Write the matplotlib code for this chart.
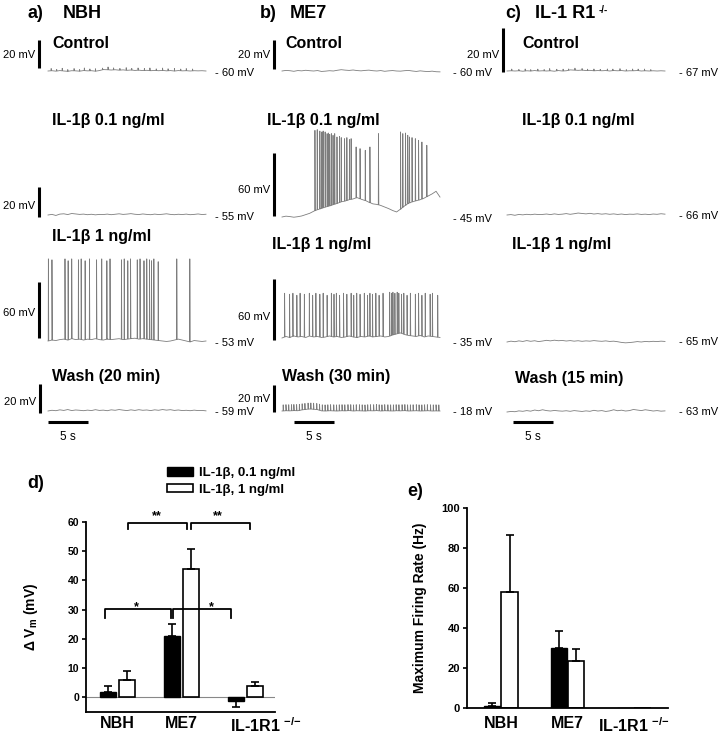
import numpy as np
import matplotlib
matplotlib.use('Agg')
import matplotlib.pyplot as plt
from matplotlib.patches import Patch
from matplotlib import transforms

plt.rcParams['font.family'] = ['Liberation Sans', 'DejaVu Sans']
plt.rcParams['mathtext.fontset'] = 'custom'
plt.rcParams['mathtext.rm'] = 'Liberation Sans'
plt.rcParams['mathtext.bf'] = 'Liberation Sans:bold'
plt.rcParams['mathtext.it'] = 'Liberation Sans:italic'

# ------------------------------------------------------------------ data
# bar charts
groups = ['NBH', 'ME7', 'IL-1R1 $^{\\mathbf{{-}/{-}}}$']
legend_labels = ['IL-1β, 0.1 ng/ml', 'IL-1β, 1 ng/ml']
dvm_low = [1.7, 21.1, -1.4]
dvm_low_err = [2.1, 4.0, 1.8]
dvm_high = [5.9, 44.0, 3.8]
dvm_high_err = [3.2, 6.6, 1.6]
rate_low = [1.2, 30.0, 0.0]
rate_low_err = [1.3, 8.7, 0.0]
rate_high = [57.8, 23.3, 0.0]
rate_high_err = [28.9, 6.2, 0.0]
dvm_ticks = [0, 10, 20, 30, 40, 50, 60]
rate_ticks = [0, 20, 40, 60, 80, 100]
# significance brackets: x_left, x_right, y, leg, label, label_x, label_y
dvm_brackets = [
    (0.16, 1.08, 59.5, 2.0, '**', 0.62, 62.0),
    (1.15, 2.07, 59.5, 2.0, '**', 1.57, 62.0),
    (-0.20, 0.84, 30.2, 3.0, '*', 0.30, 31.0),
    (0.87, 1.77, 30.2, 3.0, '*', 1.46, 31.0),
]

# recordings (20 s, baseline sampled every 0.5 s, mV relative to rest)
t_grid = np.arange(41) * 0.5
panel_titles = [('a)', 'NBH'), ('b)', 'ME7'), ('c)', 'IL-1 R1')]
row_labels = [['Control', 'Control', 'Control'],
              ['IL-1β 0.1 ng/ml', 'IL-1β 0.1 ng/ml', 'IL-1β 0.1 ng/ml'],
              ['IL-1β 1 ng/ml', 'IL-1β 1 ng/ml', 'IL-1β 1 ng/ml'],
              ['Wash (20 min)', 'Wash (30 min)', 'Wash (15 min)']]
rest_mV = [[-60, -60, -67], [-55, -45, -66], [-53, -35, -65], [-59, -18, -63]]

a_ctrl = [0.0, 0.2, -0.1, 0.3, 0.0, -0.2, 0.2, 0.1, -0.1, 0.3, 0.1, 0.2, -0.1, 0.3, 1.0, 0.9, 0.7, 0.9, 0.6, 0.8, 0.5,
          0.7, 0.4, 0.6, 0.3, 0.5, 0.2, 0.4, 0.2, 0.4, 0.1, 0.3, 0.0, 0.3, 0.1, 0.2, 0.0, 0.2, 0.1, 0.2, 0.0]
a_ctrl_minis_t = [0.4, 1.1, 1.8, 2.5, 3.3, 4.0, 4.6, 5.3, 6.0, 6.9, 7.6, 8.3, 9.1, 9.9, 10.6, 11.4, 12.2, 12.9, 13.7,
                  14.5, 15.2, 16.0, 16.8, 17.5, 18.3]
a_ctrl_minis_h = [1.6, 1.1, 1.8, 1.2, 1.6, 1.1, 1.9, 1.3, 1.7, 1.2, 2.0, 1.4, 1.2, 1.8, 1.2, 1.6, 1.4, 1.9, 1.2, 1.7,
                  1.4, 1.8, 1.2, 1.5, 1.3]
b_ctrl = [0.0, 0.4, 0.2, -0.2, 0.3, 0.1, 0.5, 0.2, 0.0, 0.3, -0.3, -0.1, 0.2, 0.0, 0.5, 0.9, 0.6, 0.4, 0.7, 0.3, 0.1,
          0.4, 0.6, 0.2, 0.0, 0.3, -0.2, 0.1, 0.3, 0.0, -0.1, 0.2, 0.4, 0.0, -0.3, 0.1, -0.2, -0.4, -0.1, -0.5, -0.6]
c_ctrl = [0.0, 0.1, 0.0, 0.1, -0.1, 0.1, 0.0, 0.2, 0.0, 0.1, 0.0, 0.1, -0.1, 0.2, 0.0, 0.1, 0.5, 0.4, 0.3, 0.4, 0.2,
          0.3, 0.1, 0.2, 0.1, 0.2, 0.0, 0.2, 0.1, 0.2, 0.0, 0.1, 0.1, 0.2, 0.0, 0.1, 0.0, 0.1, 0.0, 0.1, 0.0]
c_ctrl_minis_t = [0.6, 1.5, 2.3, 3.0, 3.9, 4.7, 5.4, 6.3, 7.1, 7.8, 8.6, 9.5, 10.2, 11.0, 11.8, 12.7, 13.4, 14.3,
                  15.1, 15.9, 16.6, 17.4, 18.2]
c_ctrl_minis_h = [0.8, 0.6, 0.9, 0.6, 0.8, 0.6, 1.0, 0.7, 0.8, 0.6, 0.9, 0.7, 0.6, 0.8, 0.6, 0.8, 0.7, 0.9, 0.6, 0.8,
                  0.7, 0.8, 0.6]

a_01 = [0.0, 0.4, -0.3, 0.6, 0.8, 0.3, 1.0, 0.7, 0.4, 0.6, 0.2, 0.5, 0.1, 0.4, 0.3, 0.6, 0.2, 0.5, 0.8, 0.4, 0.6,
        0.9, 0.5, 0.3, 0.7, 0.4, 0.2, 0.6, 0.3, 0.5, 0.8, 0.4, 0.2, 0.5, 0.3, 0.6, 0.2, 0.4, 0.7, 0.3, 0.5]
b_01 = [0.0, 0.8, 0.4, -0.2, 0.3, 1.0, 2.2, 3.5, 5.5, 7.0, 8.2, 9.5, 10.5, 11.8, 13.0, 14.5, 15.2, 16.5, 17.2, 18.5,
        17.0, 15.8, 14.0, 12.5, 12.0, 11.0, 9.5, 8.0, 6.2, 4.8, 7.5, 10.5, 13.0, 14.5, 15.5, 16.5, 18.0, 20.0, 22.0,
        24.5, 19.0]
b_01_spike_t = [4.17, 4.46, 4.79, 5.04, 5.21, 5.46, 5.71, 5.88, 6.04, 6.25, 6.46, 6.67, 6.96, 7.29, 7.5, 7.92, 8.21,
                8.54, 8.75, 9.38, 9.88, 10.54, 11.13, 12.21, 15.0, 15.29, 15.63, 15.92, 16.13, 16.46, 16.88, 17.29,
                17.71, 18.33]
b_01_spike_v = [82.5, 83.2, 81.9, 81.0, 81.9, 81.0, 79.4, 80.0, 78.7, 79.4, 77.8, 79.4, 76.2, 76.8, 75.6, 74.6, 75.6,
                73.7, 74.6, 66.7, 65.1, 63.5, 66.7, 79.4, 81.0, 79.4, 80.0, 77.8, 76.2, 75.6, 74.6, 73.0, 71.4, 68.3]
c_01 = [0.0, 0.3, -0.2, 0.4, 0.1, 0.5, 0.2, 0.6, 0.3, 0.4, 0.7, 0.3, 0.8, 0.4, 0.6, 1.0, 0.5, 0.9, 1.4, 1.1, 0.8,
        1.2, 0.7, 1.0, 0.6, 0.9, 0.5, 0.8, 0.4, 0.7, 0.3, 0.6, 0.5, 0.8, 0.4, 0.6, 0.3, 0.7, 0.5, 0.9, 0.6]

a_1 = [0.0, 1.0, 0.5, 1.5, 2.0, 1.0, 2.5, 1.5, 2.0, 1.0, 2.0, 1.5, 2.5, 1.5, 1.0, 2.0, 1.5, 2.0, 2.5, 1.5, 2.0, 2.5,
       3.0, 2.0, 2.5, 2.0, 1.5, 1.0, 0.5, 0.0, -0.5, 0.0, 1.0, 2.0, 1.0, 0.0, -1.0, 0.5, 0.0, -0.5, 0.0]
a_1_spike_t = [0.05, 0.5, 2.15, 2.55, 3.0, 3.85, 4.2, 4.7, 5.25, 6.15, 6.8, 7.45, 7.85, 9.3, 9.65, 10.1, 10.45, 11.3,
               11.65, 12.15, 12.5, 12.85, 13.1, 13.4, 13.95, 16.3, 17.95]
a_1_spike_v = [88, 87, 88, 86, 88, 87, 88, 86, 88, 87, 88, 86, 88, 87, 88, 86, 88, 87, 88, 86, 88, 87, 86, 88, 85,
               88, 88]
b_1 = [0.0, 1.5, 0.5, 2.0, 1.0, 1.5, 0.5, 2.0, 1.0, 1.5, 0.5, 1.0, 2.0, 1.0, 1.5, 0.5, 1.0, 2.0, 1.0, 0.5, 1.5, 1.0,
       2.0, 1.0, 1.5, 2.0, 1.0, 1.5, 3.0, 4.0, 5.0, 3.5, 2.5, 2.0, 1.5, 2.5, 1.0, 2.0, 1.5, 1.0, 0.5]
b_1_spike_t = [0.33, 0.96, 1.38, 1.88, 2.29, 2.83, 3.46, 3.88, 4.29, 4.79, 5.21, 5.71, 6.25, 6.58, 6.88, 7.29, 7.79,
               8.21, 8.75, 9.08, 9.46, 9.88, 10.42, 10.83, 11.13, 11.46, 11.88, 12.29, 12.79, 13.63, 13.88, 14.04,
               14.29, 14.58, 14.79, 15.13, 15.42, 15.83, 16.25, 16.88, 17.29, 17.71, 18.13, 18.75, 19.04, 19.71]
b_1_spike_v = [44, 43, 44, 42, 44, 43, 44, 42, 44, 43, 44, 42, 44, 43, 44, 42, 44, 43, 44, 42, 44, 43, 44, 42, 44,
               43, 44, 42, 44, 45, 44, 45, 44, 45, 44, 43, 44, 42, 44, 43, 44, 42, 44, 43, 44, 42]
c_1 = [0.0, 0.6, 0.2, 0.8, 0.4, 1.0, 0.5, 0.9, 0.3, 0.7, 1.2, 0.8, 1.3, 0.9, 1.1, 0.7, 1.0, 0.6, 0.9, 0.5, 0.8, 0.6,
       1.0, 0.7, 0.5, 0.8, 0.4, 0.6, 0.2, -0.3, -0.6, -0.4, -0.1, 0.3, 0.0, 0.4, 0.2, 0.5, 0.3, 0.6, 0.4]

a_wash = [0.0, 0.5, 0.2, 0.8, 0.4, 1.0, 0.3, 0.7, 0.5, 0.2, 0.6, 0.3, 0.9, 0.4, 0.6, 0.2, 0.8, 0.5, 1.0, 0.6, 0.3,
          0.8, 0.4, 0.9, 0.5, 0.7, 0.3, 0.8, 0.5, 1.0, 0.6, 0.9, 0.4, 0.7, 0.3, 0.5, 0.2, 0.6, 0.3, 0.4, 0.1]
b_wash = [0.0, 0.2, 0.1, 0.3, 0.2, 0.8, 1.2, 1.5, 1.3, 1.0, 0.1, 0.0, 0.2, 0.1, 0.0, 0.2, 0.1, 0.3, 0.0, 0.2, 0.1,
          0.0, 0.2, 0.1, 0.3, 0.0, 0.2, 0.1, 0.0, 0.2, 0.1, 0.3, 0.0, 0.1, 0.2, 0.0, 0.1, 0.2, 0.0, 0.1, 0.0]
b_wash_spike_t = [0.15, 0.5, 0.85, 1.2, 1.5, 1.85, 2.2, 2.55, 2.9, 3.3, 3.65, 4.0, 4.4, 4.75, 5.1, 5.45, 5.8, 6.15,
                  6.55, 6.9, 7.25, 7.6, 7.95, 8.35, 8.7, 9.05, 9.4, 9.8, 10.15, 10.5, 10.85, 11.2, 11.6, 11.95,
                  12.3, 12.65, 13.0, 13.4, 13.75, 14.1, 14.45, 14.8, 15.2, 15.55, 15.9, 16.25, 16.6, 17.0, 17.35,
                  17.7, 18.05, 18.4, 18.8, 19.15, 19.5, 19.85]
b_wash_spike_h = 4.5
c_wash = [0.0, 0.4, 0.2, 0.8, 0.5, 1.0, 0.6, 1.4, 0.9, 1.6, 1.0, 0.7, 1.1, 0.8, 0.6, 0.9, 0.5, 1.0, 0.7, 0.4, 0.8,
          0.5, 1.2, 0.7, 1.0, 0.4, 0.8, 1.6, 0.9, 1.3, 0.7, 1.0, 1.8, 1.4, 1.0, 1.6, 1.2, 0.7, 1.0, 0.6, 0.8]

traces = [
    [(a_ctrl, a_ctrl_minis_t, a_ctrl_minis_h, True), (b_ctrl, [], [], False), (c_ctrl, c_ctrl_minis_t, c_ctrl_minis_h, True)],
    [(a_01, [], [], False), (b_01, b_01_spike_t, b_01_spike_v, False), (c_01, [], [], False)],
    [(a_1, a_1_spike_t, a_1_spike_v, False), (b_1, b_1_spike_t, b_1_spike_v, False), (c_1, [], [], False)],
    [(a_wash, [], [], False), (b_wash, b_wash_spike_t, [b_wash_spike_h] * len(b_wash_spike_t), True), (c_wash, [], [], False)],
]

# ------------------------------------------------------------------ layout (pixels)
W, H = 720, 737
fig = plt.figure(figsize=(7.2, 7.37), dpi=100)


def fx(x):
    return x / W


def fy(y):
    return 1 - y / H


x0_px = [48, 282, 507]
trace_w_px = 158
pxps = trace_w_px / 20.0
base_px = [[71, 71, 71], [215, 217, 215], [341, 338, 342], [411, 411, 412]]
scale_px = [[1.4, 1.45, 2.2], [1.5, 1.05, 1.4], [0.933, 1.017, 1.4], [1.45, 1.35, 1.4]]
# vertical scale bars: (row, col): (x_px, bottom_px, mV, label_y_px)
vbars = {(0, 0): (39, 68, 20, 55), (0, 1): (274, 69, 20, 55), (0, 2): (503, 72, 20, 55),
         (1, 0): (39, 217, 20, 206), (1, 1): (274, 216, 60, 190),
         (2, 0): (39, 338, 60, 313), (2, 1): (274, 340, 60, 317),
         (3, 0): (40, 413, 20, 402), (3, 1): (274, 412, 20, 399)}
rest_x_px = [215, 453, 679]
rest_y_px = [[73, 73, 73], [217, 219, 216], [343, 343, 342], [412, 412, 412]]
label_pos = [[(52, 43), (285, 43), (522, 43)],
             [(52, 120), (267, 120), (522, 120)],
             [(52, 237), (272, 245), (512, 245)],
             [(52, 377), (282, 377), (515, 378)]]
tbar_x_px = [48, 294, 513]
tbar_y_px = 422

trace_col = '#7d7d7d'
vlo, vhi = -12, 95


def build_trace(base, st_list, sv_list, relative):
    pts = list(zip(t_grid, base))
    for st, sv in zip(st_list, sv_list):
        b = float(np.interp(st, t_grid, base))
        peak = b + sv if relative else sv
        pts += [(st - 0.02, b), (st, peak), (st + 0.045, b)]
    pts.sort(key=lambda p: p[0])
    arr = np.array(pts)
    return arr[:, 0], arr[:, 1]


for r in range(4):
    for c in range(3):
        sc = scale_px[r][c]
        bp = base_px[r][c]
        left = fx(x0_px[c])
        bottom = fy(bp - vlo * sc)
        height = (vhi - vlo) * sc / H
        ax = fig.add_axes([left, bottom, trace_w_px / W, height])
        ax.set_xlim(0, 20)
        ax.set_ylim(vlo, vhi)
        ax.axis('off')
        base, st, sv, rel = traces[r][c]
        tx, vy = build_trace(base, st, sv, rel)
        ax.plot(tx, vy, color=trace_col, lw=0.6, clip_on=False)
        if (r, c) in vbars:
            bx, bb, mv, ly = vbars[(r, c)]
            xb = (bx - x0_px[c]) / pxps
            y0 = (bp - bb) / sc
            ax.plot([xb, xb], [y0, y0 + mv], color='black', lw=2.2, clip_on=False, solid_capstyle='butt')
            fig.text(fx(bx - 4), fy(ly), f'{mv} mV', ha='right', va='center', fontsize=8)
        if r == 3:
            xt = (tbar_x_px[c] - x0_px[c]) / pxps
            yt = (bp - tbar_y_px) / sc
            ax.plot([xt, xt + 5], [yt, yt], color='black', lw=2.2, clip_on=False, solid_capstyle='butt')
            fig.text(fx(tbar_x_px[c] + 2.5 * pxps), fy(437), '5 s', ha='center', va='center', fontsize=8.5)
        fig.text(fx(rest_x_px[c]), fy(rest_y_px[r][c]), f'- {abs(rest_mV[r][c])} mV', ha='left', va='center',
                 fontsize=8)
        lx, lyy = label_pos[r][c]
        fig.text(fx(lx), fy(lyy), row_labels[r][c], ha='left', va='center', fontsize=11.5, fontweight='bold')

# panel titles
title_pos = [((27, 14), (63, 14)), ((260, 14), (290, 14)), ((505, 14), (535, 14))]
for (lab, name), ((lx, ly), (nx, ny)) in zip(panel_titles, title_pos):
    fig.text(fx(lx), fy(ly), lab, ha='left', va='center', fontsize=13, fontweight='bold')
    t = fig.text(fx(nx), fy(ny), name, ha='left', va='center', fontsize=13, fontweight='bold')
fig.text(fx(599), fy(10), '-/-', ha='left', va='center', fontsize=7, fontweight='bold')

# ------------------------------------------------------------------ panel d
bw = 0.25
off = 0.148
xg = np.arange(3)
axd = fig.add_axes([fx(86), fy(712), 189 / W, 190 / H])
b1 = axd.bar(xg - off, dvm_low, bw, color='black', edgecolor='black', lw=1.0, zorder=2)
b2 = axd.bar(xg + off, dvm_high, bw, color='white', edgecolor='black', lw=1.2, zorder=2)
low_err = [[e if v < 0 else 0 for v, e in zip(dvm_low, dvm_low_err)],
           [e if v >= 0 else 0 for v, e in zip(dvm_low, dvm_low_err)]]
axd.errorbar(xg - off, dvm_low, yerr=low_err, fmt='none', ecolor='black', elinewidth=1.2, capsize=3,
             capthick=1.2, zorder=3)
axd.errorbar(xg + off, dvm_high, yerr=[[0] * 3, dvm_high_err], fmt='none', ecolor='black', elinewidth=1.2,
             capsize=3, capthick=1.2, zorder=3)
axd.axhline(0, color='#888888', lw=0.8, zorder=1)
axd.set_xlim(-0.49, 2.46)
axd.set_ylim(-5, 60)
axd.set_yticks(dvm_ticks)
axd.set_yticklabels([str(v) for v in dvm_ticks], fontsize=7.5, fontweight='bold')
axd.set_xticks(xg)
axd.set_xticklabels(groups, fontsize=11.5, fontweight='bold')
axd.tick_params(axis='x', length=0, pad=3)
axd.tick_params(axis='y', length=3, width=1.2, direction='out', pad=2)
lab3 = axd.get_xticklabels()[2]
lab3.set_transform(lab3.get_transform() + transforms.ScaledTranslation(20 / 100, 0, fig.dpi_scale_trans))
for s in ['top', 'right']:
    axd.spines[s].set_visible(False)
for s in ['left', 'bottom']:
    axd.spines[s].set_linewidth(1.3)
axd.set_ylabel('Δ V$_{\\mathbf{m}}$ (mV)', fontsize=10, fontweight='bold')
axd.yaxis.set_label_coords(-0.245, 0.5)
for xl, xr, y, leg, lab, lxp, lyp in dvm_brackets:
    axd.plot([xl, xl, xr, xr], [y - leg, y, y, y - leg], color='black', lw=1.3, clip_on=False, zorder=4)
    axd.text(lxp, lyp, lab, ha='center', va='center', fontsize=9, fontweight='bold', clip_on=False)
fig.text(fx(27), fy(483), 'd)', ha='left', va='center', fontsize=13, fontweight='bold')
fig.legend([Patch(facecolor='black', edgecolor='black'), Patch(facecolor='white', edgecolor='black', lw=1.2)],
           legend_labels, loc='upper left', bbox_to_anchor=(fx(167), fy(467)), frameon=False,
           prop={'size': 9.5, 'weight': 'bold'}, handlelength=2.0, handleheight=0.65, handletextpad=0.4,
           labelspacing=0.35, borderpad=0, borderaxespad=0)

# ------------------------------------------------------------------ panel e
axe = fig.add_axes([fx(467), fy(708), 201 / W, 200 / H])
offe = 0.13
axe.bar(xg - offe, rate_low, bw, color='black', edgecolor='black', lw=1.0, zorder=2)
axe.bar(xg + offe, rate_high, bw, color='white', edgecolor='black', lw=1.2, zorder=2)
idx = [i for i in range(3) if rate_low[i] > 0]
axe.errorbar(xg[idx] - offe, [rate_low[i] for i in idx], yerr=[[0] * len(idx), [rate_low_err[i] for i in idx]],
             fmt='none', ecolor='black', elinewidth=1.2, capsize=3, capthick=1.2, zorder=3)
idx = [i for i in range(3) if rate_high[i] > 0]
axe.errorbar(xg[idx] + offe, [rate_high[i] for i in idx], yerr=[[0] * len(idx), [rate_high_err[i] for i in idx]],
             fmt='none', ecolor='black', elinewidth=1.2, capsize=3, capthick=1.2, zorder=3)
axe.set_xlim(-0.51, 2.51)
axe.set_ylim(0, 100)
axe.set_yticks(rate_ticks)
axe.set_yticklabels([str(v) for v in rate_ticks], fontsize=8, fontweight='bold')
axe.set_xticks(xg)
axe.set_xticklabels(groups, fontsize=11.5, fontweight='bold')
axe.tick_params(axis='x', length=0, pad=6)
axe.tick_params(axis='y', length=3, width=1.2, direction='out', pad=2)
for s in ['top', 'right']:
    axe.spines[s].set_visible(False)
for s in ['left', 'bottom']:
    axe.spines[s].set_linewidth(1.3)
axe.set_ylabel('Maximum Firing Rate (Hz)', fontsize=10, fontweight='bold')
axe.yaxis.set_label_coords(-0.2, 0.5)
fig.text(fx(407), fy(492), 'e)', ha='left', va='center', fontsize=13, fontweight='bold')

fig.savefig('out.png', dpi=100)
